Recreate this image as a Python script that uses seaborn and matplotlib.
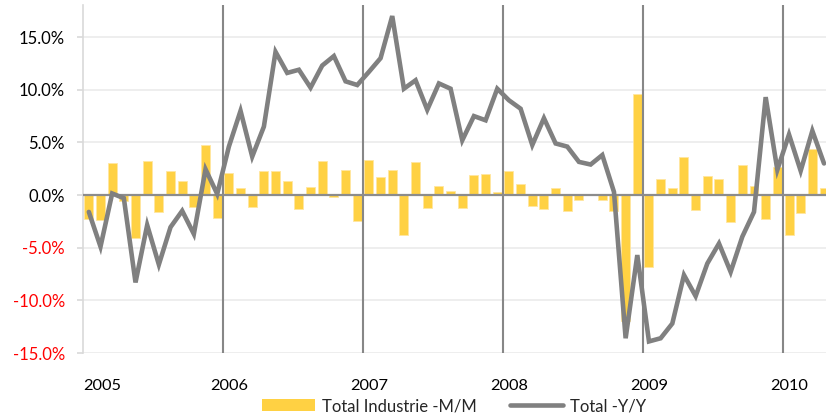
import matplotlib
matplotlib.use('Agg')
import matplotlib.pyplot as plt
import seaborn as sns
import pandas as pd
from matplotlib.patches import Patch
from matplotlib.lines import Line2D

# ---- data ----
months = pd.date_range('2005-01-01', periods=64, freq='MS').strftime('%Y-%m').tolist()
year_labels = ['2005', '2006', '2007', '2008', '2009', '2010']

mm = [-2.3, -2.4, 3.0, -0.6, -4.05, 3.25, -1.6, 2.3, 1.35, -1.1, 4.75, -2.15,
      2.1, 0.65, -1.15, 2.25, 2.25, 1.35, -1.3, 0.8, 3.25, -0.2, 2.35, -2.45,
      3.3, 1.75, 2.35, -3.8, 3.1, -1.2, 0.9, 0.4, -1.25, 1.9, 2.0, 0.3,
      2.25, 1.05, -1.0, -1.3, 0.65, -1.5, -0.5, 0.1, -0.5, -1.5, -12.0, 9.6,
      -6.8, 1.5, 0.65, 3.65, -1.4, 1.85, 1.5, -2.6, 2.9, 0.85, -2.3, 2.7,
      -3.8, -1.7, 4.35, 0.7]

yoy = [-1.6, -4.9, 0.15, -0.3, -8.3, -2.85, -6.6, -3.05, -1.5, -3.7, 2.45, 0.1,
       4.6, 8.0, 3.65, 6.5, 13.6, 11.6, 11.9, 10.2, 12.3, 13.2, 10.8, 10.45,
       11.7, 13.0, 17.0, 10.1, 10.9, 8.1, 10.6, 10.1, 5.2, 7.5, 7.1, 10.1,
       9.0, 8.2, 4.75, 7.3, 4.9, 4.6, 3.15, 2.9, 3.8, 0.3, -13.6, -5.7,
       -13.9, -13.6, -12.2, -7.6, -9.6, -6.5, -4.6, -7.3, -3.95, -1.6, 9.3, 2.4,
       5.75, 2.3, 6.1, 3.0]

y_ticks = [-15, -10, -5, 0, 5, 10, 15]
series_names = ['Total Industrie -M/M', 'Total -Y/Y']

BAR_COLOR = '#FFD143'
LINE_COLOR = '#808080'

sns.set_theme(style='white')
plt.rcParams['font.family'] = ['Lato', 'DejaVu Sans']

fig = plt.figure(figsize=(8.26, 4.17), dpi=100)
ax = fig.add_axes([83 / 826, 1 - 353 / 417, 1 - 83 / 826, (353 - 5) / 417])

df = pd.DataFrame({'month': months, 'mm': mm, 'yoy': yoy})
df['pos'] = range(len(df))

sns.barplot(data=df, x='month', y='mm', color=BAR_COLOR, saturation=1,
            width=0.77, ax=ax, zorder=2, edgecolor='#FFE6A0', linewidth=0.6)
sns.lineplot(data=df, x='pos', y='yoy', color=LINE_COLOR, lw=3.3, ax=ax,
             zorder=5, solid_joinstyle='miter')

ax.set_xlim(-0.5, 63.17)
ax.set_ylim(-15, 18.05)

# horizontal gridlines
ax.set_yticks(y_ticks)
ax.yaxis.grid(True, color='#EDEDED', lw=1.3)
ax.xaxis.grid(False)
ax.set_axisbelow(True)

# year separator lines
for k in range(1, len(year_labels)):
    ax.axvline(12 * k - 0.5, color='#878787', lw=1.5, zorder=3)

# zero line
ax.axhline(0, color='#8C8C8C', lw=1.6, zorder=3)

for s in ['top', 'right', 'bottom']:
    ax.spines[s].set_visible(False)
ax.spines['left'].set_color('#D9D9D9')
ax.spines['left'].set_linewidth(1.2)

# y tick labels
ax.set_yticklabels([f'{v:.1f}%' for v in y_ticks])
for lab, v in zip(ax.get_yticklabels(), y_ticks):
    lab.set_color('#FF0000' if v < 0 else '#000000')
ax.tick_params(axis='y', length=4, color='#D9D9D9', width=1.2, pad=9,
               labelsize=12, left=True)

# x tick labels
xt = [-0.5] + [12 * k for k in range(1, len(year_labels))]
ax.set_xticks(xt)
ax.set_xticklabels(year_labels)
ax.get_xticklabels()[0].set_horizontalalignment('left')
ax.tick_params(axis='x', length=0, pad=19, labelsize=11.8, colors='#000000')
ax.set_xlabel('')
ax.set_ylabel('')

handles = [Patch(facecolor=BAR_COLOR, edgecolor='none'),
           Line2D([0], [0], color=LINE_COLOR, lw=3.3)]
fig.legend(handles, series_names, loc='center',
           bbox_to_anchor=(454 / 826, 1 - 406 / 417), ncol=2, frameon=False,
           fontsize=12, handlelength=3.2, columnspacing=2.0,
           handletextpad=0.4, borderpad=0.1)

fig.savefig('out.png', dpi=100)
